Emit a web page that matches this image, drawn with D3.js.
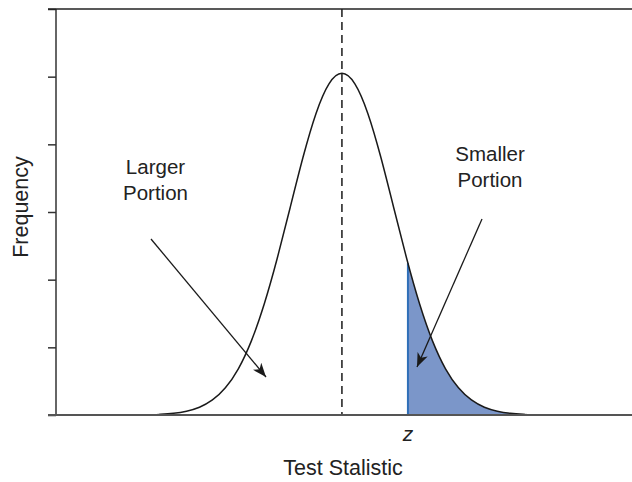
<!DOCTYPE html>
<html>
<head>
<meta charset="utf-8">
<script src="https://cdn.jsdelivr.net/npm/d3@7"></script>
<style>
  html, body { margin: 0; padding: 0; background: #fff; }
  svg { display: block; font-family: "Liberation Sans", Arial, Helvetica, sans-serif; }
</style>
</head>
<body>
<svg id="chart" width="632" height="482"></svg>
<script>
// Sampled test-statistic distribution (x in standard units, frequency in tick units)
const curveX = [-3.55, -3.5, -3.25, -3.0, -2.75, -2.5, -2.25, -2.0, -1.75, -1.5, -1.25, -1.0, -0.75, -0.5, -0.25,
                0, 0.25, 0.5, 0.75, 1.0, 1.25, 1.5, 1.75, 2.0, 2.25, 2.5, 2.75, 3.0, 3.25, 3.5, 3.55];
const curveY = [0.009, 0.011, 0.026, 0.056, 0.115, 0.222, 0.402, 0.683, 1.092, 1.640, 2.312, 3.063, 3.812, 4.457, 4.894,
                5.05, 4.894, 4.457, 3.812, 3.063, 2.312, 1.640, 1.092, 0.683, 0.402, 0.222, 0.115, 0.056, 0.026, 0.011, 0.009];
const meanValue = 0;
const zValue = 1.274;
const yTicks = [0, 1, 2, 3, 4, 5, 6];
const xDomain = [-5.52, 5.6];
const yDomain = [0, 6];
const xLabel = "Test Stalistic";
const yLabel = "Frequency";
const zLabel = "z";
const leftLabel = ["Larger", "Portion"];
const rightLabel = ["Smaller", "Portion"];

const svg = d3.select("#chart");
const W = 632, H = 482;
const margin = { left: 56, top: 9, bottom: 415 };

const x = d3.scaleLinear().domain(xDomain).range([margin.left, W]);
const y = d3.scaleLinear().domain(yDomain).range([margin.bottom, margin.top]);

const points = curveX.map((v, i) => ({ x: v, y: curveY[i] }));

// arrowhead marker
const defs = svg.append("defs");
defs.append("marker")
  .attr("id", "arrow")
  .attr("markerUnits", "userSpaceOnUse")
  .attr("viewBox", "-14 -6 16 12")
  .attr("refX", 0).attr("refY", 0)
  .attr("markerWidth", 16).attr("markerHeight", 12)
  .attr("orient", "auto")
  .append("path")
  .attr("d", "M0,0 L-14,-5.5 L-10,0 L-14,5.5 Z")
  .attr("fill", "#1a1a1a");

// clip the tail area to the right of z
defs.append("clipPath").attr("id", "tail")
  .append("rect")
  .attr("x", x(zValue)).attr("y", 0)
  .attr("width", W - x(zValue)).attr("height", H);

// shaded upper tail
const area = d3.area()
  .x(d => x(d.x)).y0(y(0)).y1(d => y(d.y))
  .curve(d3.curveNatural);
svg.append("path")
  .datum(points)
  .attr("d", area)
  .attr("clip-path", "url(#tail)")
  .attr("fill", "#7b96c9");

const line = d3.line()
  .x(d => x(d.x)).y(d => y(d.y))
  .curve(d3.curveNatural);

const curvePath = svg.append("path")
  .datum(points)
  .attr("d", line)
  .attr("fill", "none")
  .attr("stroke", "#1a1a1a")
  .attr("stroke-width", 1.5);

// blue edge at z, up to the curve height found on the rendered path
(function () {
  const node = curvePath.node();
  const len = node.getTotalLength();
  const target = x(zValue);
  let lo = len / 2, hi = len;
  for (let k = 0; k < 40; k++) {
    const mid = (lo + hi) / 2;
    if (node.getPointAtLength(mid).x < target) lo = mid; else hi = mid;
  }
  const p = node.getPointAtLength(lo);
  svg.insert("line", () => node)
    .attr("x1", target).attr("x2", target)
    .attr("y1", y(0)).attr("y2", p.y)
    .attr("stroke", "#2f6fb8")
    .attr("stroke-width", 2);
})();

// mean reference line
svg.append("line")
  .attr("x1", x(meanValue)).attr("x2", x(meanValue))
  .attr("y1", y(yDomain[1])).attr("y2", y(0))
  .attr("stroke", "#1a1a1a")
  .attr("stroke-width", 1.5)
  .attr("stroke-dasharray", "8,5");

// axes
const yAxis = d3.axisLeft(y).tickValues(yTicks).tickSize(8).tickFormat("");
const gy = svg.append("g").attr("transform", `translate(${margin.left},0)`).call(yAxis);
gy.select(".domain").remove();
gy.selectAll(".tick line").attr("stroke", "#333").attr("stroke-width", 1.5);

svg.append("line")
  .attr("x1", margin.left).attr("x2", margin.left)
  .attr("y1", y(yDomain[1])).attr("y2", y(0))
  .attr("stroke", "#333").attr("stroke-width", 1.5);
// top frame line
svg.append("line")
  .attr("x1", margin.left - 8).attr("x2", W)
  .attr("y1", y(yDomain[1])).attr("y2", y(yDomain[1]))
  .attr("stroke", "#222").attr("stroke-width", 1.5);
// baseline
svg.append("line")
  .attr("x1", margin.left - 8).attr("x2", W)
  .attr("y1", y(0)).attr("y2", y(0))
  .attr("stroke", "#555").attr("stroke-width", 2);

// labels
svg.append("text")
  .attr("x", x(zValue)).attr("y", 441)
  .attr("text-anchor", "middle")
  .attr("font-size", 21).attr("font-style", "italic")
  .attr("fill", "#222")
  .text(zLabel);

svg.append("text")
  .attr("x", 343).attr("y", 475)
  .attr("text-anchor", "middle")
  .attr("font-size", 21.5).attr("fill", "#222")
  .text(xLabel);

svg.append("text")
  .attr("transform", "translate(28,207) rotate(-90)")
  .attr("text-anchor", "middle")
  .attr("font-size", 21.5).attr("fill", "#222")
  .text(yLabel);

function block(lines, cx, baseline) {
  const t = svg.append("text")
    .attr("text-anchor", "middle")
    .attr("font-size", 20.5).attr("fill", "#222");
  lines.forEach((s, i) => {
    t.append("tspan").attr("x", cx).attr("y", baseline + i * 26).text(s);
  });
}
block(leftLabel, 155.5, 174);
block(rightLabel, 490, 161);

// annotation arrows
svg.append("line")
  .attr("x1", 151).attr("y1", 239).attr("x2", 266).attr("y2", 377)
  .attr("stroke", "#1a1a1a").attr("stroke-width", 1.3)
  .attr("marker-end", "url(#arrow)");
svg.append("line")
  .attr("x1", 482).attr("y1", 219).attr("x2", 417).attr("y2", 367)
  .attr("stroke", "#1a1a1a").attr("stroke-width", 1.3)
  .attr("marker-end", "url(#arrow)");
</script>
</body>
</html>
